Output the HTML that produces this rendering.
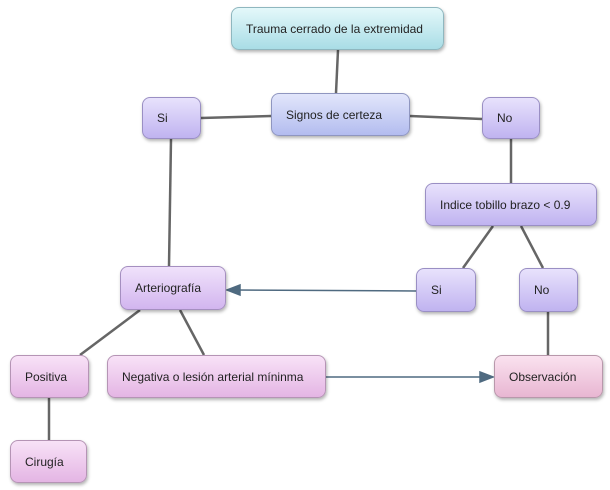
<!DOCTYPE html>
<html><head><style>
body{margin:0;width:610px;height:490px;background:#fff;position:relative;font-family:"Liberation Sans",sans-serif;font-size:12px;color:#222;overflow:hidden}
.n{position:absolute;box-sizing:border-box;border-radius:8px;border:1.5px solid #9a8fb0;display:flex;align-items:center;padding-left:14px;box-shadow:1px 2px 3px rgba(0,0,0,.3)}
.c{background:linear-gradient(#e4f8fa,#a9dde6);border-color:#8fb7bf}
.b{background:linear-gradient(#e2e6fb,#b3bcef);border-color:#8f96c0}
.p{background:linear-gradient(#e8e2fc,#c0b3f0);border-color:#9a8fc4}
.a{background:linear-gradient(#f0e2fb,#d2b5ef);border-color:#a58fc0}
.k{background:linear-gradient(#f8e2f7,#e4b5e4);border-color:#b594b5}
.o{background:linear-gradient(#fae2ef,#e8b6d2);border-color:#b898ab}
svg{position:absolute;left:0;top:0}
</style></head><body>
<svg width="610" height="490">
<g stroke="#666" stroke-width="2.5" fill="none">
<line x1="338" y1="50" x2="336" y2="93"/>
<line x1="201" y1="118" x2="271" y2="116"/>
<line x1="410" y1="116" x2="482" y2="119"/>
<line x1="171" y1="139" x2="169" y2="266"/>
<line x1="511" y1="139" x2="511" y2="183"/>
<line x1="493" y1="226" x2="463" y2="268"/>
<line x1="521" y1="226" x2="543" y2="268"/>
<line x1="140" y1="310" x2="80" y2="355"/>
<line x1="180" y1="310" x2="204" y2="355"/>
<line x1="49" y1="398" x2="49" y2="440"/>
<line x1="548" y1="312" x2="548" y2="355"/>
</g>
<g stroke="#4f6a80" stroke-width="1.5" fill="#4f6a80">
<line x1="416" y1="291" x2="236" y2="290"/>
<polygon points="227,290 240,285 240,295"/>
<line x1="326" y1="377" x2="484" y2="377"/>
<polygon points="493,377 480,372 480,382"/>
</g>
</svg>
<div class="n c" style="left:231px;top:7px;width:213px;height:43px;padding-left:14px">Trauma cerrado de la extremidad</div>
<div class="n b" style="left:271px;top:93px;width:139px;height:43px">Signos de certeza</div>
<div class="n p" style="left:142px;top:97px;width:59px;height:42px">Si</div>
<div class="n p" style="left:482px;top:97px;width:58px;height:42px">No</div>
<div class="n p" style="left:425px;top:183px;width:172px;height:43px">Indice tobillo brazo &lt; 0.9</div>
<div class="n p" style="left:416px;top:268px;width:60px;height:44px">Si</div>
<div class="n p" style="left:519px;top:268px;width:59px;height:44px">No</div>
<div class="n a" style="left:120px;top:266px;width:106px;height:44px">Arteriografía</div>
<div class="n k" style="left:10px;top:355px;width:79px;height:43px">Positiva</div>
<div class="n k" style="left:107px;top:355px;width:219px;height:43px">Negativa o lesión arterial míninma</div>
<div class="n o" style="left:494px;top:355px;width:109px;height:43px">Observación</div>
<div class="n k" style="left:10px;top:440px;width:77px;height:43px">Cirugía</div>
</body></html>
